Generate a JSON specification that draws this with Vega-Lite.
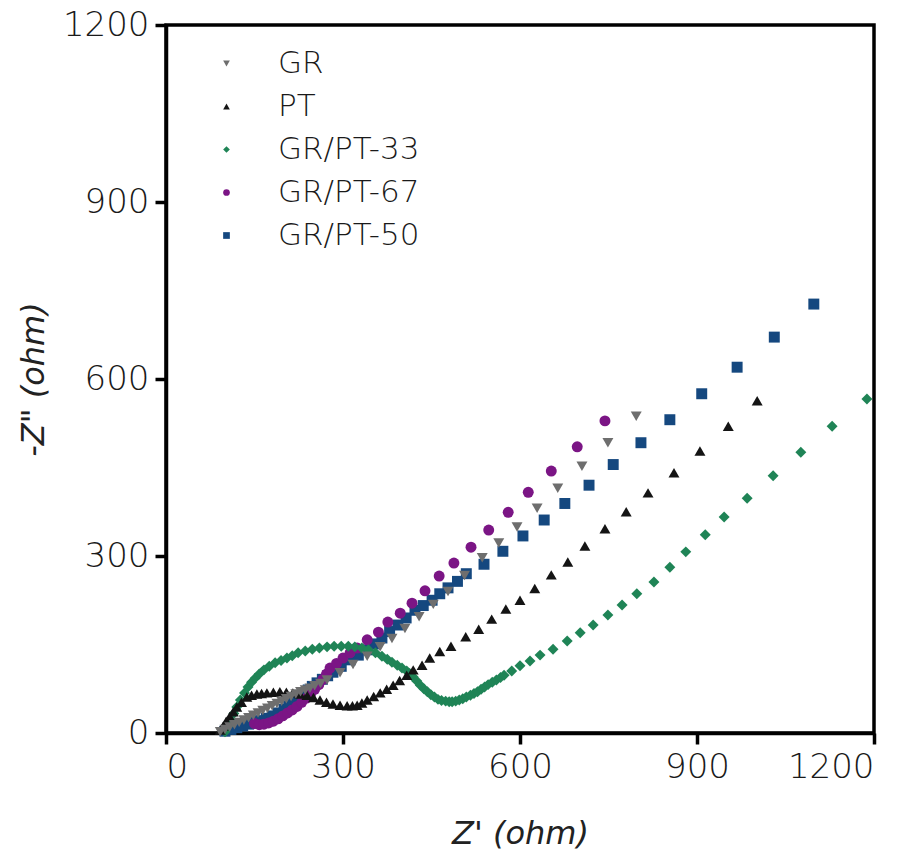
{
  "$schema": "https://vega.github.io/schema/vega-lite/v6.json",
  "width": 708,
  "height": 708,
  "autosize": "none",
  "padding": {"left": 166, "top": 25, "right": 42, "bottom": 123},
  "background": "white",
  "config": {
    "view": {"stroke": "black", "strokeWidth": 3.5},
    "font": "DejaVu Sans",
    "axis": {
      "grid": false,
      "domainColor": "black",
      "domainWidth": 3.5,
      "tickColor": "black",
      "tickWidth": 3.5,
      "tickSize": 11,
      "labelFont": "DejaVu Sans",
      "labelFontSize": 34,
      "labelFontWeight": 300,
      "labelColor": "#1a1a1a",
      "labelPadding": 6,
      "titleFont": "DejaVu Sans",
      "titleFontSize": 32,
      "titleFontStyle": "italic",
      "titleFontWeight": "normal",
      "titleColor": "#222222"
    },
    "legend": {
      "labelFont": "DejaVu Sans",
      "labelFontSize": 31,
      "labelFontWeight": 300,
      "labelColor": "#1a1a1a"
    }
  },
  "datasets": {
    "pts": [
      {"s": "GR/PT-50", "x": 100, "y": 3}, {"s": "GR/PT-50", "x": 110, "y": 6}, {"s": "GR/PT-50", "x": 120, "y": 9}, {"s": "GR/PT-50", "x": 130, "y": 12}, {"s": "GR/PT-50", "x": 140, "y": 15}, {"s": "GR/PT-50", "x": 150, "y": 18}, {"s": "GR/PT-50", "x": 160, "y": 21}, {"s": "GR/PT-50", "x": 170, "y": 25}, {"s": "GR/PT-50", "x": 180, "y": 29}, {"s": "GR/PT-50", "x": 190, "y": 34}, {"s": "GR/PT-50", "x": 200, "y": 40}, {"s": "GR/PT-50", "x": 208, "y": 46}, {"s": "GR/PT-50", "x": 215, "y": 52}, {"s": "GR/PT-50", "x": 221, "y": 57}, {"s": "GR/PT-50", "x": 227, "y": 61}, {"s": "GR/PT-50", "x": 234, "y": 67}, {"s": "GR/PT-50", "x": 241, "y": 73}, {"s": "GR/PT-50", "x": 248, "y": 79}, {"s": "GR/PT-50", "x": 256, "y": 85}, {"s": "GR/PT-50", "x": 265, "y": 91}, {"s": "GR/PT-50", "x": 274, "y": 97}, {"s": "GR/PT-50", "x": 283, "y": 103}, {"s": "GR/PT-50", "x": 297, "y": 113}, {"s": "GR/PT-50", "x": 312, "y": 124}, {"s": "GR/PT-50", "x": 326, "y": 132}, {"s": "GR/PT-50", "x": 341, "y": 141}, {"s": "GR/PT-50", "x": 353, "y": 151}, {"s": "GR/PT-50", "x": 366, "y": 161}, {"s": "GR/PT-50", "x": 379, "y": 172}, {"s": "GR/PT-50", "x": 393, "y": 183}, {"s": "GR/PT-50", "x": 407, "y": 195}, {"s": "GR/PT-50", "x": 422, "y": 208}, {"s": "GR/PT-50", "x": 436, "y": 216}, {"s": "GR/PT-50", "x": 451, "y": 225}, {"s": "GR/PT-50", "x": 464, "y": 236}, {"s": "GR/PT-50", "x": 478, "y": 246}, {"s": "GR/PT-50", "x": 494, "y": 257}, {"s": "GR/PT-50", "x": 509, "y": 270}, {"s": "GR/PT-50", "x": 539, "y": 286}, {"s": "GR/PT-50", "x": 571, "y": 308}, {"s": "GR/PT-50", "x": 605, "y": 334}, {"s": "GR/PT-50", "x": 641, "y": 361}, {"s": "GR/PT-50", "x": 676, "y": 389}, {"s": "GR/PT-50", "x": 717, "y": 420}, {"s": "GR/PT-50", "x": 758, "y": 455}, {"s": "GR/PT-50", "x": 805, "y": 492}, {"s": "GR/PT-50", "x": 854, "y": 531}, {"s": "GR/PT-50", "x": 908, "y": 575}, {"s": "GR/PT-50", "x": 968, "y": 620}, {"s": "GR/PT-50", "x": 1031, "y": 671}, {"s": "GR/PT-50", "x": 1098, "y": 727},

      {"s": "GR/PT-67", "x": 150, "y": 16}, {"s": "GR/PT-67", "x": 158, "y": 14}, {"s": "GR/PT-67", "x": 166, "y": 15}, {"s": "GR/PT-67", "x": 174, "y": 17}, {"s": "GR/PT-67", "x": 182, "y": 20}, {"s": "GR/PT-67", "x": 190, "y": 24}, {"s": "GR/PT-67", "x": 198, "y": 29}, {"s": "GR/PT-67", "x": 206, "y": 34}, {"s": "GR/PT-67", "x": 214, "y": 39}, {"s": "GR/PT-67", "x": 222, "y": 45}, {"s": "GR/PT-67", "x": 230, "y": 52}, {"s": "GR/PT-67", "x": 238, "y": 59}, {"s": "GR/PT-67", "x": 245, "y": 66}, {"s": "GR/PT-67", "x": 252, "y": 74}, {"s": "GR/PT-67", "x": 259, "y": 82}, {"s": "GR/PT-67", "x": 266, "y": 91}, {"s": "GR/PT-67", "x": 272, "y": 100}, {"s": "GR/PT-67", "x": 278, "y": 110}, {"s": "GR/PT-67", "x": 289, "y": 118}, {"s": "GR/PT-67", "x": 300, "y": 127}, {"s": "GR/PT-67", "x": 312, "y": 136}, {"s": "GR/PT-67", "x": 324, "y": 144}, {"s": "GR/PT-67", "x": 341, "y": 158}, {"s": "GR/PT-67", "x": 360, "y": 171}, {"s": "GR/PT-67", "x": 376, "y": 188}, {"s": "GR/PT-67", "x": 397, "y": 203}, {"s": "GR/PT-67", "x": 417, "y": 220}, {"s": "GR/PT-67", "x": 439, "y": 241}, {"s": "GR/PT-67", "x": 463, "y": 266}, {"s": "GR/PT-67", "x": 488, "y": 288}, {"s": "GR/PT-67", "x": 517, "y": 315}, {"s": "GR/PT-67", "x": 547, "y": 344}, {"s": "GR/PT-67", "x": 580, "y": 374}, {"s": "GR/PT-67", "x": 614, "y": 408}, {"s": "GR/PT-67", "x": 653, "y": 444}, {"s": "GR/PT-67", "x": 697, "y": 485}, {"s": "GR/PT-67", "x": 744, "y": 529},

      {"s": "GR/PT-33", "x": 100, "y": 2}, {"s": "GR/PT-33", "x": 105, "y": 12}, {"s": "GR/PT-33", "x": 110, "y": 22}, {"s": "GR/PT-33", "x": 115, "y": 33}, {"s": "GR/PT-33", "x": 120, "y": 44}, {"s": "GR/PT-33", "x": 126, "y": 56}, {"s": "GR/PT-33", "x": 133, "y": 68}, {"s": "GR/PT-33", "x": 139, "y": 78}, {"s": "GR/PT-33", "x": 145, "y": 86}, {"s": "GR/PT-33", "x": 151, "y": 93}, {"s": "GR/PT-33", "x": 158, "y": 100}, {"s": "GR/PT-33", "x": 166, "y": 107}, {"s": "GR/PT-33", "x": 175, "y": 113}, {"s": "GR/PT-33", "x": 185, "y": 119}, {"s": "GR/PT-33", "x": 195, "y": 123}, {"s": "GR/PT-33", "x": 205, "y": 127}, {"s": "GR/PT-33", "x": 214, "y": 131}, {"s": "GR/PT-33", "x": 224, "y": 136}, {"s": "GR/PT-33", "x": 236, "y": 139}, {"s": "GR/PT-33", "x": 248, "y": 142}, {"s": "GR/PT-33", "x": 260, "y": 144}, {"s": "GR/PT-33", "x": 273, "y": 146}, {"s": "GR/PT-33", "x": 285, "y": 147}, {"s": "GR/PT-33", "x": 297, "y": 147}, {"s": "GR/PT-33", "x": 309, "y": 147}, {"s": "GR/PT-33", "x": 320, "y": 146}, {"s": "GR/PT-33", "x": 332, "y": 144}, {"s": "GR/PT-33", "x": 343, "y": 141}, {"s": "GR/PT-33", "x": 355, "y": 136}, {"s": "GR/PT-33", "x": 366, "y": 130}, {"s": "GR/PT-33", "x": 375, "y": 125}, {"s": "GR/PT-33", "x": 383, "y": 120}, {"s": "GR/PT-33", "x": 392, "y": 115}, {"s": "GR/PT-33", "x": 400, "y": 110}, {"s": "GR/PT-33", "x": 408, "y": 105}, {"s": "GR/PT-33", "x": 413, "y": 101}, {"s": "GR/PT-33", "x": 419, "y": 95}, {"s": "GR/PT-33", "x": 425, "y": 88}, {"s": "GR/PT-33", "x": 431, "y": 81}, {"s": "GR/PT-33", "x": 437, "y": 75}, {"s": "GR/PT-33", "x": 443, "y": 70}, {"s": "GR/PT-33", "x": 449, "y": 65}, {"s": "GR/PT-33", "x": 455, "y": 61}, {"s": "GR/PT-33", "x": 461, "y": 57}, {"s": "GR/PT-33", "x": 467, "y": 55}, {"s": "GR/PT-33", "x": 474, "y": 54}, {"s": "GR/PT-33", "x": 480, "y": 53}, {"s": "GR/PT-33", "x": 485, "y": 53}, {"s": "GR/PT-33", "x": 491, "y": 54}, {"s": "GR/PT-33", "x": 497, "y": 56}, {"s": "GR/PT-33", "x": 503, "y": 58}, {"s": "GR/PT-33", "x": 509, "y": 61}, {"s": "GR/PT-33", "x": 516, "y": 64}, {"s": "GR/PT-33", "x": 522, "y": 67}, {"s": "GR/PT-33", "x": 528, "y": 70}, {"s": "GR/PT-33", "x": 534, "y": 74}, {"s": "GR/PT-33", "x": 540, "y": 78}, {"s": "GR/PT-33", "x": 546, "y": 82}, {"s": "GR/PT-33", "x": 553, "y": 86}, {"s": "GR/PT-33", "x": 560, "y": 90}, {"s": "GR/PT-33", "x": 567, "y": 94}, {"s": "GR/PT-33", "x": 573, "y": 98}, {"s": "GR/PT-33", "x": 586, "y": 105}, {"s": "GR/PT-33", "x": 600, "y": 114}, {"s": "GR/PT-33", "x": 617, "y": 122}, {"s": "GR/PT-33", "x": 634, "y": 132}, {"s": "GR/PT-33", "x": 656, "y": 142}, {"s": "GR/PT-33", "x": 680, "y": 156}, {"s": "GR/PT-33", "x": 702, "y": 170}, {"s": "GR/PT-33", "x": 724, "y": 183}, {"s": "GR/PT-33", "x": 749, "y": 200}, {"s": "GR/PT-33", "x": 773, "y": 217}, {"s": "GR/PT-33", "x": 798, "y": 236}, {"s": "GR/PT-33", "x": 827, "y": 256}, {"s": "GR/PT-33", "x": 854, "y": 281}, {"s": "GR/PT-33", "x": 881, "y": 307}, {"s": "GR/PT-33", "x": 914, "y": 336}, {"s": "GR/PT-33", "x": 946, "y": 366}, {"s": "GR/PT-33", "x": 985, "y": 398}, {"s": "GR/PT-33", "x": 1029, "y": 436}, {"s": "GR/PT-33", "x": 1076, "y": 476}, {"s": "GR/PT-33", "x": 1129, "y": 520}, {"s": "GR/PT-33", "x": 1188, "y": 566},

      {"s": "PT", "x": 92, "y": 5}, {"s": "PT", "x": 97, "y": 12}, {"s": "PT", "x": 102, "y": 20}, {"s": "PT", "x": 108, "y": 28}, {"s": "PT", "x": 114, "y": 36}, {"s": "PT", "x": 120, "y": 44}, {"s": "PT", "x": 128, "y": 52}, {"s": "PT", "x": 137, "y": 61}, {"s": "PT", "x": 145, "y": 64}, {"s": "PT", "x": 154, "y": 66}, {"s": "PT", "x": 162, "y": 67}, {"s": "PT", "x": 171, "y": 68}, {"s": "PT", "x": 182, "y": 69}, {"s": "PT", "x": 193, "y": 70}, {"s": "PT", "x": 204, "y": 69}, {"s": "PT", "x": 215, "y": 68}, {"s": "PT", "x": 227, "y": 66}, {"s": "PT", "x": 239, "y": 64}, {"s": "PT", "x": 250, "y": 60}, {"s": "PT", "x": 261, "y": 56}, {"s": "PT", "x": 272, "y": 52}, {"s": "PT", "x": 283, "y": 49}, {"s": "PT", "x": 295, "y": 47}, {"s": "PT", "x": 307, "y": 46}, {"s": "PT", "x": 316, "y": 46}, {"s": "PT", "x": 324, "y": 47}, {"s": "PT", "x": 332, "y": 51}, {"s": "PT", "x": 341, "y": 56}, {"s": "PT", "x": 352, "y": 62}, {"s": "PT", "x": 363, "y": 68}, {"s": "PT", "x": 374, "y": 74}, {"s": "PT", "x": 385, "y": 81}, {"s": "PT", "x": 396, "y": 89}, {"s": "PT", "x": 408, "y": 98}, {"s": "PT", "x": 419, "y": 107}, {"s": "PT", "x": 434, "y": 115}, {"s": "PT", "x": 447, "y": 127}, {"s": "PT", "x": 464, "y": 138}, {"s": "PT", "x": 483, "y": 147}, {"s": "PT", "x": 508, "y": 163}, {"s": "PT", "x": 530, "y": 176}, {"s": "PT", "x": 552, "y": 193}, {"s": "PT", "x": 576, "y": 210}, {"s": "PT", "x": 600, "y": 225}, {"s": "PT", "x": 625, "y": 245}, {"s": "PT", "x": 653, "y": 268}, {"s": "PT", "x": 681, "y": 290}, {"s": "PT", "x": 710, "y": 317}, {"s": "PT", "x": 744, "y": 346}, {"s": "PT", "x": 780, "y": 375}, {"s": "PT", "x": 817, "y": 407}, {"s": "PT", "x": 861, "y": 441}, {"s": "PT", "x": 905, "y": 478}, {"s": "PT", "x": 953, "y": 520}, {"s": "PT", "x": 1002, "y": 563},

      {"s": "GR", "x": 92, "y": 2}, {"s": "GR", "x": 100, "y": 6}, {"s": "GR", "x": 108, "y": 10}, {"s": "GR", "x": 116, "y": 14}, {"s": "GR", "x": 124, "y": 18}, {"s": "GR", "x": 132, "y": 22}, {"s": "GR", "x": 140, "y": 26}, {"s": "GR", "x": 148, "y": 30}, {"s": "GR", "x": 156, "y": 34}, {"s": "GR", "x": 164, "y": 38}, {"s": "GR", "x": 172, "y": 42}, {"s": "GR", "x": 180, "y": 46}, {"s": "GR", "x": 188, "y": 50}, {"s": "GR", "x": 196, "y": 54}, {"s": "GR", "x": 204, "y": 58}, {"s": "GR", "x": 212, "y": 62}, {"s": "GR", "x": 220, "y": 66}, {"s": "GR", "x": 228, "y": 70}, {"s": "GR", "x": 236, "y": 73}, {"s": "GR", "x": 244, "y": 76}, {"s": "GR", "x": 252, "y": 80}, {"s": "GR", "x": 262, "y": 84}, {"s": "GR", "x": 273, "y": 90}, {"s": "GR", "x": 295, "y": 102}, {"s": "GR", "x": 317, "y": 116}, {"s": "GR", "x": 341, "y": 130}, {"s": "GR", "x": 363, "y": 146}, {"s": "GR", "x": 383, "y": 160}, {"s": "GR", "x": 405, "y": 177}, {"s": "GR", "x": 429, "y": 197}, {"s": "GR", "x": 453, "y": 218}, {"s": "GR", "x": 478, "y": 240}, {"s": "GR", "x": 506, "y": 267}, {"s": "GR", "x": 536, "y": 297}, {"s": "GR", "x": 564, "y": 322}, {"s": "GR", "x": 595, "y": 349}, {"s": "GR", "x": 629, "y": 381}, {"s": "GR", "x": 664, "y": 415}, {"s": "GR", "x": 705, "y": 452}, {"s": "GR", "x": 749, "y": 492}, {"s": "GR", "x": 797, "y": 537}
    ]
  },
  "data": {"name": "pts"},
  "mark": {"type": "point", "filled": true, "opacity": 1, "size": 120},
  "encoding": {
    "x": {
      "field": "x", "type": "quantitative",
      "scale": {"domain": [0, 1200], "nice": false},
      "axis": {"values": [0, 300, 600, 900, 1200], "format": "d", "title": "Z' (ohm)", "titlePadding": 34}
    },
    "y": {
      "field": "y", "type": "quantitative",
      "scale": {"domain": [0, 1200], "nice": false},
      "axis": {"values": [0, 300, 600, 900, 1200], "format": "d", "title": "-Z\" (ohm)", "titlePadding": 12}
    },
    "color": {
      "field": "s", "type": "nominal",
      "scale": {
        "domain": ["GR", "PT", "GR/PT-33", "GR/PT-67", "GR/PT-50"],
        "range": ["#6e6e6e", "#141414", "#1f8456", "#7b1585", "#15487f"]
      },
      "legend": {
        "title": null,
        "orient": "none",
        "legendX": 45,
        "legendY": 23,
        "symbolSize": 45,
        "labelOffset": 36,
        "rowPadding": 11,
        "padding": 0
      }
    },
    "shape": {
      "field": "s", "type": "nominal",
      "scale": {
        "domain": ["GR", "PT", "GR/PT-33", "GR/PT-67", "GR/PT-50"],
        "range": ["triangle-down", "triangle-up", "diamond", "circle", "square"]
      },
      "legend": null
    }
  }
}
